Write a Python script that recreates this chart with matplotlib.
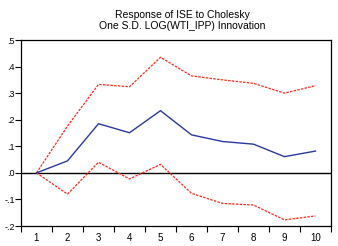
import matplotlib.pyplot as plt
import numpy as np

periods = [1, 2, 3, 4, 5, 6, 7, 8, 9, 10]
response = [0.0, 0.045, 0.185, 0.151, 0.234, 0.143, 0.118, 0.108, 0.061, 0.082]
upper = [0.0, 0.176, 0.333, 0.324, 0.435, 0.365, 0.350, 0.337, 0.300, 0.328]
lower = [0.0, -0.080, 0.040, -0.023, 0.032, -0.077, -0.115, -0.121, -0.177, -0.162]

y_ticks = [-0.2, -0.1, 0.0, 0.1, 0.2, 0.3, 0.4, 0.5]
y_labels = ['-.2', '-.1', '.0', '.1', '.2', '.3', '.4', '.5']

plt.rcParams['font.family'] = ['Liberation Sans', 'DejaVu Sans']

fig = plt.figure(figsize=(3.38, 2.46), dpi=100)
ax = fig.add_axes([21 / 338, 1 - 226 / 246, 310 / 338, 186 / 246])

ax.axhline(0, color='black', linewidth=1.0)
ax.plot(periods, upper, color='#ff2a1a', linestyle=(0, (2, 1)), linewidth=0.9)
ax.plot(periods, lower, color='#ff2a1a', linestyle=(0, (2, 1)), linewidth=0.9)
ax.plot(periods, response, color='#2a3aa0', linewidth=1.0)

ax.set_xlim(0.5, 10.5)
ax.set_ylim(-0.2, 0.5)

# ticks between periods, labels on the periods
ax.set_xticks(np.arange(0.5, 11, 1.0))
ax.set_xticklabels([])
ax.set_xticks(periods, minor=True)
ax.set_xticklabels([str(p) for p in periods], minor=True)
ax.tick_params(axis='x', which='major', direction='out', length=4, width=0.8)
ax.tick_params(axis='x', which='minor', length=0, labelsize=7, pad=5)

ax.set_yticks(y_ticks)
ax.set_yticklabels(y_labels)
ax.tick_params(axis='y', direction='out', length=4, width=0.8, labelsize=6.5, pad=0.5)

for s in ax.spines.values():
    s.set_linewidth(0.9)

fig.text(0.54, 0.96, 'Response of ISE to Cholesky\nOne S.D. LOG(WTI_IPP) Innovation',
         ha='center', va='top', fontsize=7.5, linespacing=1.15)

fig.savefig('out.png', dpi=100)
